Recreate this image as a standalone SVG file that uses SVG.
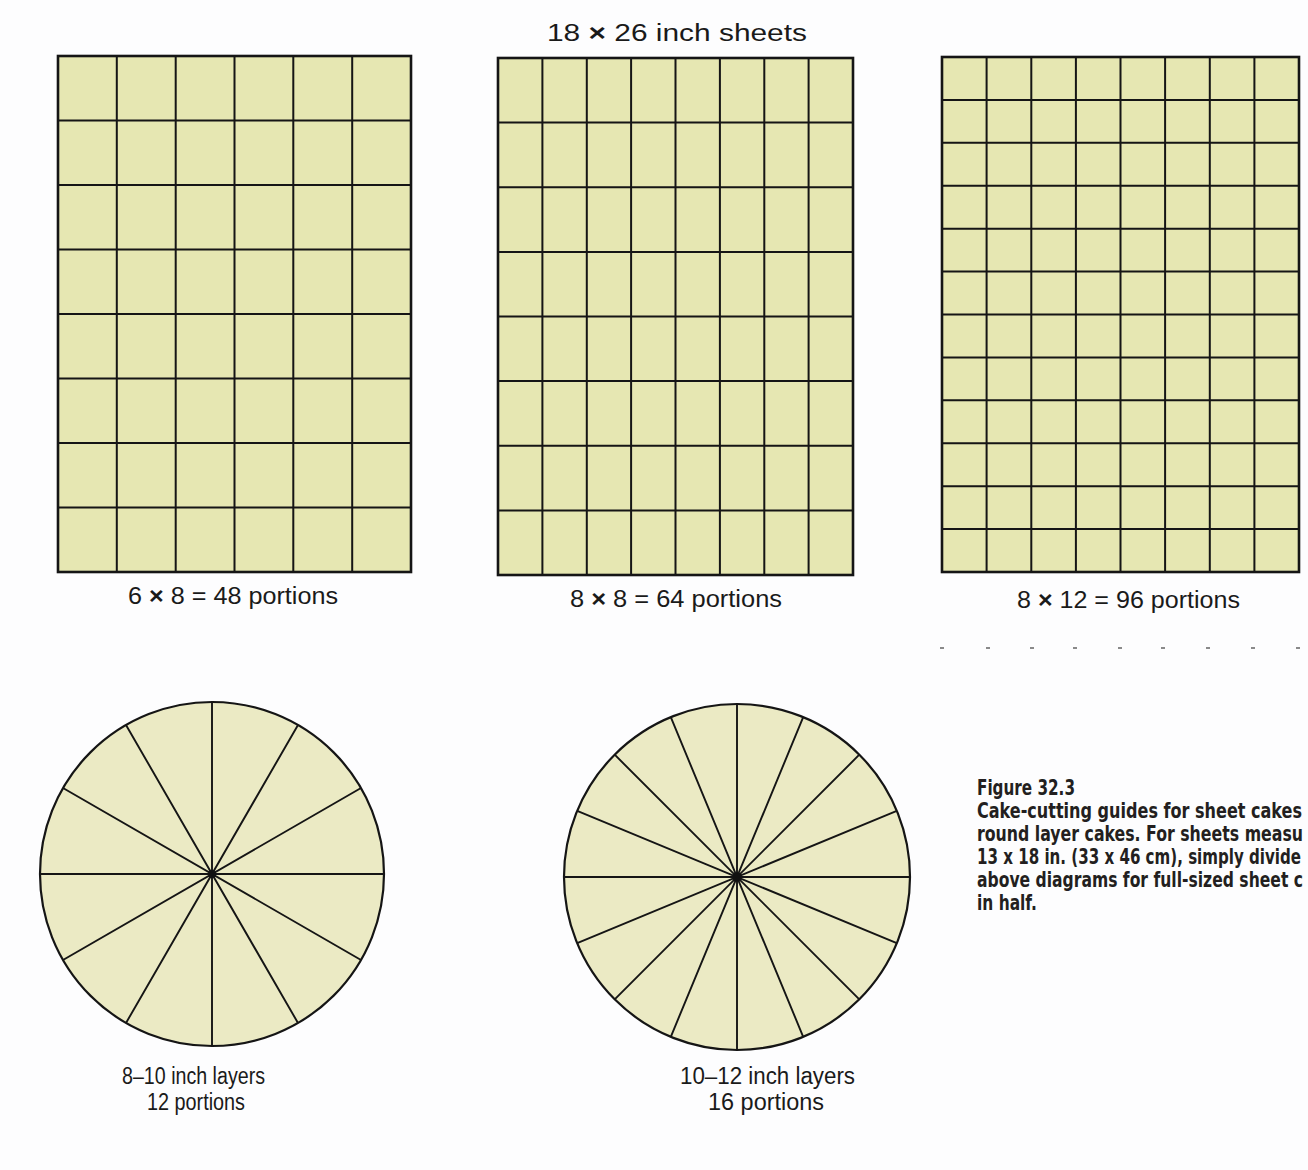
<svg xmlns="http://www.w3.org/2000/svg" width="1308" height="1170" viewBox="0 0 1308 1170">
<style>
.bg{fill:#fdfdfe}
.sheet{fill:#e6e7b2;stroke:#151515;stroke-width:2.6}
.cut{fill:none;stroke:#151515;stroke-width:2}
.round{fill:#ebeac4;stroke:#151515;stroke-width:2.2}
.spoke{fill:none;stroke:#151515;stroke-width:1.9}
.lbl{font-family:"Liberation Sans",Arial,sans-serif;font-size:23px;fill:#1a1a1a}
.x{font-weight:bold}
.cap{font-family:"Liberation Sans Narrow","DejaVu Sans Condensed","Liberation Sans",sans-serif;font-weight:bold;font-size:20.5px;fill:#231f20}
.tick{stroke:#8a8a8a;stroke-width:2}
</style>
<rect class="bg" x="0" y="0" width="1308" height="1170"/>

<text id="title" class="lbl" x="547" y="41" font-size="29" textLength="260" lengthAdjust="spacingAndGlyphs">18 <tspan class="x">×</tspan> 26 inch sheets</text>

<g id="sheet48">
<rect class="sheet" x="58" y="56" width="353" height="516"/>
<path class="cut" d="M116.8 56V572M175.7 56V572M234.5 56V572M293.3 56V572M352.2 56V572M58 120.5H411M58 185H411M58 249.5H411M58 314H411M58 378.5H411M58 443H411M58 507.5H411"/>
<text class="lbl" x="128" y="604" textLength="210" lengthAdjust="spacingAndGlyphs">6 <tspan class="x">×</tspan> 8 = 48 portions</text>
</g>

<g id="sheet64">
<rect class="sheet" x="498" y="58" width="355" height="517"/>
<path class="cut" d="M542.4 58V575M586.8 58V575M631.1 58V575M675.5 58V575M719.9 58V575M764.3 58V575M808.6 58V575M498 122.6H853M498 187.3H853M498 251.9H853M498 316.5H853M498 381.1H853M498 445.8H853M498 510.4H853"/>
<text class="lbl" x="570" y="607" textLength="212" lengthAdjust="spacingAndGlyphs">8 <tspan class="x">×</tspan> 8 = 64 portions</text>
</g>

<g id="sheet96">
<rect class="sheet" x="942" y="57" width="357" height="515"/>
<path class="cut" d="M986.6 57V572M1031.3 57V572M1075.9 57V572M1120.5 57V572M1165.1 57V572M1209.8 57V572M1254.4 57V572M942 99.9H1299M942 142.8H1299M942 185.8H1299M942 228.7H1299M942 271.6H1299M942 314.5H1299M942 357.4H1299M942 400.3H1299M942 443.3H1299M942 486.2H1299M942 529.1H1299"/>
<text class="lbl" x="1017" y="608" textLength="223" lengthAdjust="spacingAndGlyphs">8 <tspan class="x">×</tspan> 12 = 96 portions</text>
</g>

<g id="ticks">
<path class="tick" d="M940 648h4M986 648h4M1030 648h4M1073 648h4M1118 648h4M1161 648h4M1206 648h4M1251 648h4M1296 648h4"/>
</g>

<g id="round12">
<circle class="round" cx="212" cy="874" r="172"/>
<path class="spoke" d="M40 874H384M212 702V1046M361 788L63 960M298 725L126 1023M126 725L298 1023M63 788L361 960"/>
<circle cx="212" cy="874" r="3.5" fill="#111"/>
<text class="lbl" x="122" y="1084" font-size="22" textLength="143" lengthAdjust="spacingAndGlyphs">8–10 inch layers</text>
<text class="lbl" x="147" y="1110" font-size="22" textLength="98" lengthAdjust="spacingAndGlyphs">12 portions</text>
</g>

<g id="round16">
<circle class="round" cx="737" cy="877" r="173"/>
<path class="spoke" d="M564 877H910M737 704V1050M896.8 810.8L577.2 943.2M859.3 754.7L614.7 999.3M803.2 717.2L670.8 1036.8M670.8 717.2L803.2 1036.8M614.7 754.7L859.3 999.3M577.2 810.8L896.8 943.2"/>
<circle cx="737" cy="877" r="4" fill="#111"/>
<text class="lbl" x="680" y="1084" font-size="22" textLength="175" lengthAdjust="spacingAndGlyphs">10–12 inch layers</text>
<text class="lbl" x="708" y="1110" font-size="22" textLength="116" lengthAdjust="spacingAndGlyphs">16 portions</text>
</g>

<g id="caption">
<text class="cap" x="977" y="795" textLength="98" lengthAdjust="spacingAndGlyphs">Figure 32.3</text>
<text class="cap" x="977" y="818" textLength="325" lengthAdjust="spacingAndGlyphs">Cake-cutting guides for sheet cakes</text>
<text class="cap" x="977" y="841" textLength="326" lengthAdjust="spacingAndGlyphs">round layer cakes. For sheets measu</text>
<text class="cap" x="977" y="864" textLength="324" lengthAdjust="spacingAndGlyphs">13 x 18 in. (33 x 46 cm), simply divide</text>
<text class="cap" x="977" y="887" textLength="326" lengthAdjust="spacingAndGlyphs">above diagrams for full-sized sheet c</text>
<text class="cap" x="977" y="910" textLength="60" lengthAdjust="spacingAndGlyphs">in half.</text>
</g>
</svg>
